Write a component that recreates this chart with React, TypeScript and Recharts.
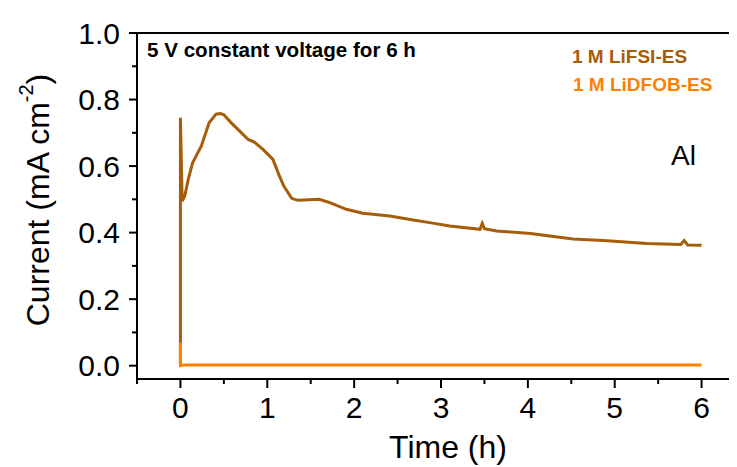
import React from 'react';
import { LineChart, Line, XAxis, YAxis } from 'recharts';

// Potentiostatic hold at 5 V on Al: current vs. time for two electrolytes
const lifsiTime = [
  0, 0, 0.02, 0.05, 0.09, 0.14, 0.24, 0.33, 0.41, 0.46, 0.5, 0.585, 0.68, 0.78, 0.85, 0.95,
  1.065, 1.14, 1.19, 1.24, 1.28, 1.35, 1.6, 1.72, 1.91, 2.1, 2.41, 2.68, 2.87, 3.1, 3.45,
  3.475, 3.5, 3.64, 4.03, 4.52, 4.87, 5.37, 5.76, 5.8, 5.84, 6.0,
];
const lifsiCurrent = [
  0, 0.745, 0.495, 0.51, 0.56, 0.61, 0.66, 0.73, 0.756, 0.758, 0.754, 0.73, 0.706, 0.68, 0.672,
  0.65, 0.62, 0.57, 0.54, 0.52, 0.503, 0.497, 0.5, 0.49, 0.47, 0.458, 0.45, 0.438, 0.43, 0.42,
  0.41, 0.428, 0.412, 0.405, 0.397, 0.381, 0.376, 0.367, 0.364, 0.376, 0.363, 0.362,
];
const lidfobTime = [0, 0, 0.03, 6.0];
const lidfobCurrent = [0.07, 0, 0.002, 0.002];

const seriesNames = ['1 M LiFSI-ES', '1 M LiDFOB-ES'];
const xTicks = [-0.5, 0, 0.5, 1, 1.5, 2, 2.5, 3, 3.5, 4, 4.5, 5, 5.5, 6, 6.5];
const yTicks = [0, 0.1, 0.2, 0.3, 0.4, 0.5, 0.6, 0.7, 0.8, 0.9, 1.0];
const topTicks = [1, 2, 3, 4, 5, 6, 7, 8, 9];
const titleText = '5 V constant voltage for 6 h';
const electrodeText = 'Al';

const lifsiData = lifsiTime.map((t, i) => ({ t, current: lifsiCurrent[i] }));
const lidfobData = lidfobTime.map((t, i) => ({ t, current: lidfobCurrent[i] }));

const BROWN = '#A65C08';
const ORANGE = '#FF8000';
const FONT = '"Liberation Sans", Arial, Helvetica, sans-serif';

const TICK_SIZE = 8;
const Y_TICK_MARGIN = 9;
const X_TICK_MARGIN = 10;

const YTick = (props: any) => {
  const { x, y, payload } = props;
  const axisX = x + TICK_SIZE + Y_TICK_MARGIN;
  const major = Math.round(payload.value * 10) % 2 === 0;
  return (
    <g>
      <line x1={axisX - (major ? 8 : 5)} x2={axisX} y1={y} y2={y} stroke="#000" strokeWidth={2} />
      {major && (
        <text x={x} y={y} dy="0.355em" textAnchor="end" fontSize={30} fontFamily={FONT} fill="#000">
          {payload.value.toFixed(1)}
        </text>
      )}
    </g>
  );
};

const XTick = (props: any) => {
  const { x, y, payload } = props;
  const axisY = y - TICK_SIZE - X_TICK_MARGIN;
  const major = Number.isInteger(payload.value);
  const showLabel = major && payload.value >= 0 && payload.value <= 6;
  return (
    <g>
      <line x1={x} x2={x} y1={axisY} y2={axisY + (major ? 9 : 5)} stroke="#000" strokeWidth={2} />
      {showLabel && (
        <text x={x} y={y} dy="0.71em" textAnchor="middle" fontSize={30} fontFamily={FONT} fill="#000">
          {String(payload.value)}
        </text>
      )}
    </g>
  );
};

const YTitle = () => (
  <text
    x={30}
    y={192}
    transform="rotate(-90 30 192)"
    textAnchor="middle"
    dominantBaseline="central"
    fontSize={32}
    fontFamily={FONT}
    fill="#000"
  >
    Current (mA cm
    <tspan dy={-12} fontSize={20}>-2</tspan>
    <tspan dy={12}>)</tspan>
  </text>
);

const XTitle = () => (
  <text x={440} y={450} textAnchor="middle" fontSize={32} fontFamily={FONT} fill="#000">
    Time (h)
  </text>
);

export default function App() {
  return (
    <div style={{ position: 'relative', width: 729, height: 459, overflow: 'hidden' }}>
      <LineChart
        width={760}
        height={459}
        margin={{ top: 25, right: 23, bottom: 0, left: 0 }}
      >
        <XAxis
          xAxisId="main"
          dataKey="t"
          type="number"
          domain={[-0.5, 6.5]}
          ticks={xTicks}
          interval={0}
          allowDataOverflow
          height={88}
          tickSize={TICK_SIZE}
          tickMargin={X_TICK_MARGIN}
          tickLine={false}
          tick={<XTick />}
          axisLine={{ stroke: '#000', strokeWidth: 2 }}
          label={{ content: <XTitle /> }}
        />
        <XAxis
          xAxisId="top"
          orientation="top"
          type="number"
          domain={[0, 10]}
          ticks={topTicks}
          interval={0}
          mirror
          tickSize={4}
          tick={false}
          tickLine={{ stroke: '#000', strokeWidth: 1.5 }}
          axisLine={{ stroke: '#000', strokeWidth: 2 }}
        />
        <YAxis
          type="number"
          domain={[-0.04, 1.0]}
          ticks={yTicks}
          interval={0}
          allowDataOverflow
          width={129}
          tickSize={TICK_SIZE}
          tickMargin={Y_TICK_MARGIN}
          tickLine={false}
          tick={<YTick />}
          axisLine={{ stroke: '#000', strokeWidth: 2 }}
          label={{ content: <YTitle /> }}
        />
        <Line
          xAxisId="main"
          data={lifsiData}
          dataKey="current"
          name={seriesNames[0]}
          type="linear"
          stroke={BROWN}
          strokeWidth={3}
          dot={false}
          isAnimationActive={false}
        />
        <Line
          xAxisId="main"
          data={lidfobData}
          dataKey="current"
          name={seriesNames[1]}
          type="linear"
          stroke={ORANGE}
          strokeWidth={3}
          dot={false}
          isAnimationActive={false}
        />
      </LineChart>
      <svg
        width={729}
        height={459}
        style={{ position: 'absolute', left: 0, top: 0, pointerEvents: 'none' }}
      >
        <text x={139} y={49} fontSize={20.6} fontWeight="bold" fontFamily={FONT} fill="#000">
          {titleText}
        </text>
        <text x={564} y={55} fontSize={19} fontWeight="bold" fontFamily={FONT} fill={BROWN}>
          {seriesNames[0]}
        </text>
        <text x={565} y={83} fontSize={19} fontWeight="bold" fontFamily={FONT} fill={ORANGE}>
          {seriesNames[1]}
        </text>
        <text x={663} y={157} fontSize={28} fontFamily={FONT} fill="#000">
          {electrodeText}
        </text>
      </svg>
    </div>
  );
}
